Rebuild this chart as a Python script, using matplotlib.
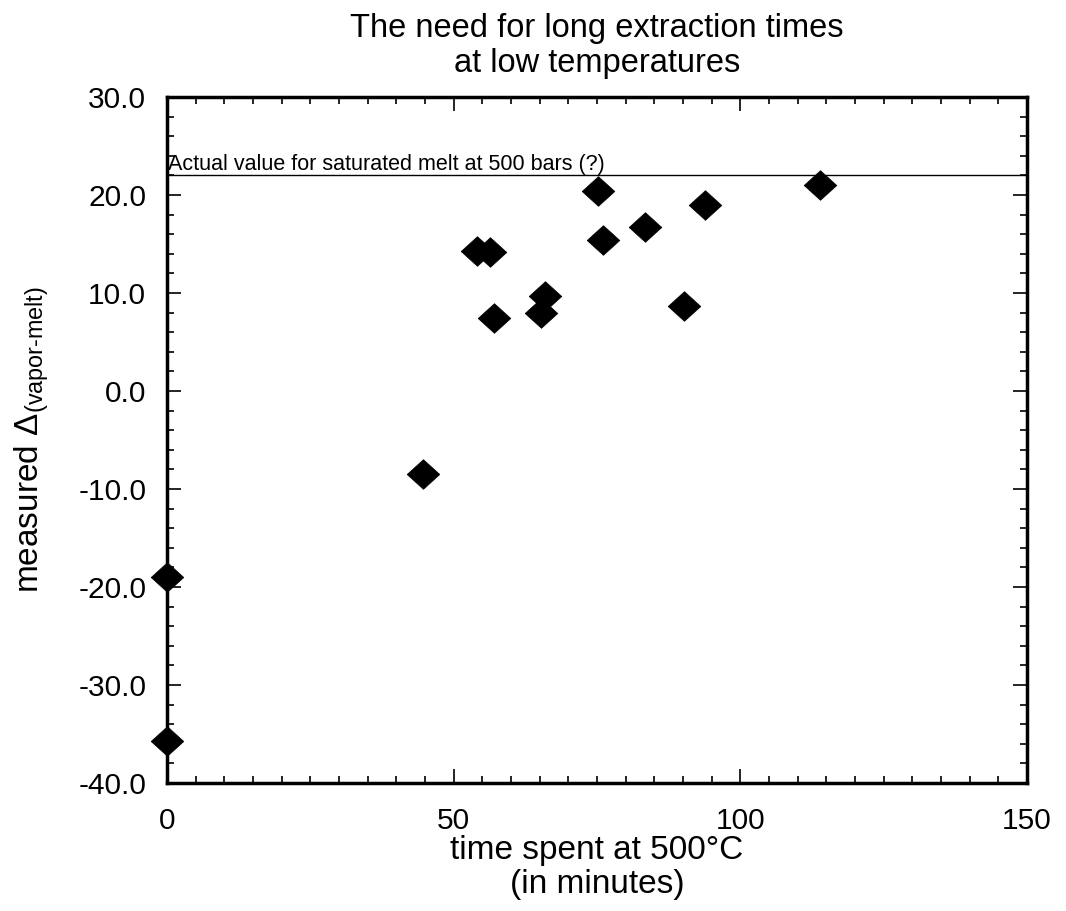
import matplotlib
matplotlib.use("Agg")
import matplotlib.pyplot as plt
from matplotlib.ticker import MultipleLocator, FormatStrFormatter

plt.rcParams['font.family'] = ['Liberation Sans', 'DejaVu Sans']
plt.rcParams['mathtext.fontset'] = 'custom'
plt.rcParams['mathtext.rm'] = 'Liberation Sans'
plt.rcParams['mathtext.it'] = 'Liberation Sans:italic'
plt.rcParams['mathtext.bf'] = 'Liberation Sans:bold'

# Extraction time (minutes at 500 °C) and measured fractionation
time_min = [0, 0, 44.6, 54.0, 56.3, 57.0, 65.2, 66.0, 75.1, 76.0, 83.3, 90.2, 93.9, 113.8]
delta = [-19.0, -35.7, -8.5, 14.3, 14.2, 7.5, 8.0, 9.7, 20.4, 15.4, 16.7, 8.7, 19.0, 21.0]

saturated_value = 22.0
saturated_label = "Actual value for saturated melt at 500 bars (?)"

# slightly wide diamond marker
diamond = [(-1.1, 0), (0, 1), (1.1, 0), (0, -1), (-1.1, 0)]

fig = plt.figure(figsize=(10.66, 9.11), dpi=100)
ax = fig.add_axes([0.1567, 0.1405, 0.8068, 0.753])

ax.axhline(saturated_value, color='black', lw=1.0, zorder=2)
ax.text(0.2, saturated_value + 0.6, saturated_label, fontsize=15.5,
        ha='left', va='baseline', color='black')

ax.plot(time_min, delta, linestyle='none', marker=diamond, ms=23.5,
        color='black', mew=0.5, clip_on=False, zorder=3)

ax.set_xlim(0, 150)
ax.set_ylim(-40, 30)
ax.xaxis.set_major_locator(MultipleLocator(50))
ax.xaxis.set_minor_locator(MultipleLocator(5))
ax.yaxis.set_major_locator(MultipleLocator(10))
ax.yaxis.set_minor_locator(MultipleLocator(2))
ax.yaxis.set_major_formatter(FormatStrFormatter('%.1f'))

ax.tick_params(which='both', direction='in', top=True, right=True,
               labelsize=21.5, width=1.2)
ax.tick_params(axis='x', which='major', pad=17)
ax.tick_params(axis='y', which='major', pad=15)
ax.tick_params(which='major', length=10)
ax.tick_params(which='minor', length=5)
for sp in ax.spines.values():
    sp.set_linewidth(2.5)

ax.set_title("The need for long extraction times\nat low temperatures",
             fontsize=23.5, pad=18, linespacing=1.15)
ax.set_xlabel("time spent at 500°C\n(in minutes)", fontsize=24,
              linespacing=1.15, labelpad=0)
ax.set_ylabel(r"measured Δ$_{\mathrm{(vapor}\text{-}\mathrm{melt)}}$",
              fontsize=24)
ax.yaxis.set_label_coords(-0.135, 0.5)

fig.savefig("out.png", dpi=100)
